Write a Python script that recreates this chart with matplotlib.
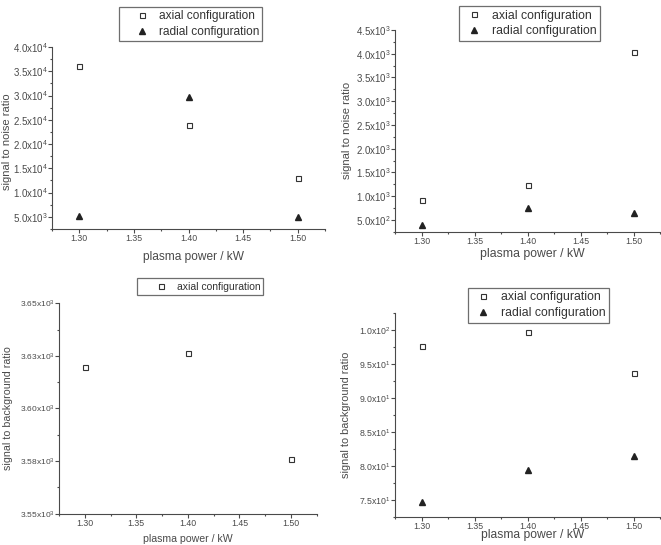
import matplotlib
matplotlib.use("Agg")
import matplotlib.pyplot as plt
from matplotlib.ticker import FixedLocator, FixedFormatter, AutoMinorLocator

plt.rcParams['font.family'] = ['Liberation Sans', 'DejaVu Sans']
plt.rcParams['mathtext.fontset'] = 'custom'
plt.rcParams['mathtext.rm'] = 'Liberation Sans'
plt.rcParams['mathtext.it'] = 'Liberation Sans:italic'
plt.rcParams['mathtext.bf'] = 'Liberation Sans:bold'

# ---------------- data ----------------
power = [1.30, 1.40, 1.50]
x_ticks = [1.30, 1.35, 1.40, 1.45, 1.50]
x_ticklabels = ["1.30", "1.35", "1.40", "1.45", "1.50"]

# top-left: signal to noise ratio
snr1_axial = [36000, 24000, 13100]
snr1_radial = [5100, 29600, 4950]
snr1_ticks = [5000, 10000, 15000, 20000, 25000, 30000, 35000, 40000]
snr1_labels = ["5.0x10$^{3}$", "1.0x10$^{4}$", "1.5x10$^{4}$", "2.0x10$^{4}$",
               "2.5x10$^{4}$", "3.0x10$^{4}$", "3.5x10$^{4}$", "4.0x10$^{4}$"]

# top-right: signal to noise ratio
snr2_axial = [910, 1230, 4030]
snr2_radial = [395, 740, 650]
snr2_ticks = [500, 1000, 1500, 2000, 2500, 3000, 3500, 4000, 4500]
snr2_labels = ["5.0x10$^{2}$", "1.0x10$^{3}$", "1.5x10$^{3}$", "2.0x10$^{3}$",
               "2.5x10$^{3}$", "3.0x10$^{3}$", "3.5x10$^{3}$", "4.0x10$^{3}$",
               "4.5x10$^{3}$"]

# bottom-left: signal to background ratio
sbr1_axial = [3619.7, 3626.4, 3575.8]
sbr1_ticks = [3550, 3575, 3600, 3625, 3650]
sbr1_labels = ["3.55x10$^{3}$", "3.58x10$^{3}$", "3.60x10$^{3}$",
               "3.63x10$^{3}$", "3.65x10$^{3}$"]

# bottom-right: signal to background ratio
sbr2_axial = [97.6, 99.6, 93.6]
sbr2_radial = [74.7, 79.4, 81.4]
sbr2_ticks = [75, 80, 85, 90, 95, 100]
sbr2_labels = ["7.5x10$^{1}$", "8.0x10$^{1}$", "8.5x10$^{1}$", "9.0x10$^{1}$",
               "9.5x10$^{1}$", "1.0x10$^{2}$"]

GREY = '#4a4a4a'
W, H = 661, 545

fig = plt.figure(figsize=(6.61, 5.45), dpi=100)


def add_axes(left, top, right, bottom):
    return fig.add_axes([left / W, 1 - bottom / H, (right - left) / W, (bottom - top) / H])


def style(ax, yticks, ylabels, ylim, ylabel, ytick_fs, xtick_fs, xlabel_fs, ylabel_fs,
          xlab_pos, ylab_pos):
    ax.set_xlim(1.275, 1.525)
    ax.set_ylim(*ylim)
    for s in ['top', 'right']:
        ax.spines[s].set_visible(False)
    for s in ['left', 'bottom']:
        ax.spines[s].set_color(GREY)
        ax.spines[s].set_linewidth(0.8)
    ax.xaxis.set_major_locator(FixedLocator(x_ticks))
    ax.xaxis.set_major_formatter(FixedFormatter(x_ticklabels))
    ax.yaxis.set_major_locator(FixedLocator(yticks))
    ax.yaxis.set_major_formatter(FixedFormatter(ylabels))
    ax.xaxis.set_minor_locator(AutoMinorLocator(2))
    ax.yaxis.set_minor_locator(AutoMinorLocator(2))
    ax.tick_params(which='both', direction='out', color=GREY, width=0.8,
                   labelcolor=GREY)
    ax.tick_params(which='major', length=2.6)
    ax.tick_params(which='minor', length=1.6)
    ax.tick_params(axis='x', labelsize=xtick_fs, pad=1.2)
    ax.tick_params(axis='y', labelsize=ytick_fs, pad=0.4)
    xl = ax.set_xlabel("plasma power / kW", fontsize=xlabel_fs, color=GREY)
    yl = ax.set_ylabel(ylabel, fontsize=ylabel_fs, color=GREY)
    ax.xaxis.set_label_coords(*xlab_pos)
    ax.yaxis.set_label_coords(*ylab_pos)
    xl.set_va('center')
    xl.set_ha('center')
    yl.set_va('center')
    yl.set_ha('center')


def plot_series(ax, axial, radial):
    h1, = ax.plot(power, axial, linestyle='none', marker='s', markersize=3.6,
                  markerfacecolor='white', markeredgecolor='#333333',
                  markeredgewidth=0.8, label='axial configuration')
    handles = [h1]
    if radial is not None:
        h2, = ax.plot(power, radial, linestyle='none', marker='^', markersize=4.6,
                      color='#222222', label='radial configuration')
        handles.append(h2)
    return handles


def legend(handles, box, fs, hl, htp):
    x0, y0, x1, y1 = box
    bbox = (x0 / W, 1 - y1 / H, (x1 - x0) / W, (y1 - y0) / H)
    leg = fig.legend(handles=handles, loc='center', bbox_to_anchor=bbox,
                     fontsize=fs, frameon=True, fancybox=False, borderpad=0.3,
                     handletextpad=htp, labelspacing=0.3, borderaxespad=0,
                     handlelength=hl, edgecolor=GREY)
    leg.get_frame().set_linewidth(0.9)
    for t in leg.get_texts():
        t.set_color('#333333')


# top-left
ax1 = add_axes(52, 47, 325, 229)
h = plot_series(ax1, snr1_axial, snr1_radial)
style(ax1, snr1_ticks, snr1_labels, (2500, 40000), "signal to noise ratio",
      7.0, 6.3, 8.6, 8.0, (0.518, -0.154), (-0.165, 0.478))
legend(h, (120, 8, 261, 40), 8.6, 3.4, -0.35)

# top-right
ax2 = add_axes(395, 30, 660, 231.7)
h = plot_series(ax2, snr2_axial, snr2_radial)
style(ax2, snr2_ticks, snr2_labels, (250, 4500), "signal to noise ratio",
      7.0, 6.3, 8.8, 8.1, (0.519, -0.112), (-0.181, 0.5))
legend(h, (460, 6, 599, 41), 8.8, 1.9, 0.5)

# bottom-left
ax3 = add_axes(59, 303.3, 316.7, 513.7)
h = plot_series(ax3, sbr1_axial, None)
style(ax3, sbr1_ticks, sbr1_labels, (3550, 3650), "signal to background ratio",
      6.0, 6.3, 7.6, 7.7, (0.5, -0.119), (-0.198, 0.5))
legend(h, (133, 279, 267, 294), 7.5, 4.0, -0.45)

# bottom-right
ax4 = add_axes(395, 312.7, 660, 516.7)
h = plot_series(ax4, sbr2_axial, sbr2_radial)
style(ax4, sbr2_ticks, sbr2_labels, (72.5, 102.5), "signal to background ratio",
      6.3, 6.3, 8.7, 7.9, (0.519, -0.092), (-0.185, 0.5))
legend(h, (469, 288, 608, 322), 8.8, 2.0, 0.45)

fig.savefig("out.png", dpi=100)
